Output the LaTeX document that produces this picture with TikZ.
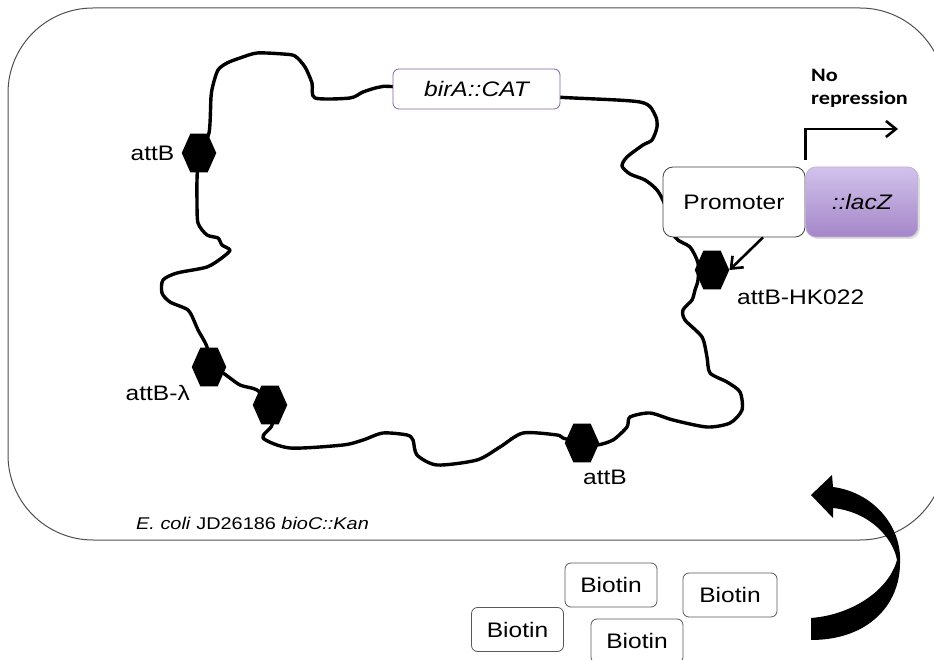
\documentclass[tikz,border=0pt]{standalone}
\usepackage{fontspec}
\setmainfont{Liberation Sans}[FakeStretch=1.17]
\newfontfamily\calibfont{Carlito}[FakeStretch=1.17]
\usepackage{tikz}
\usetikzlibrary{shapes.geometric, arrows.meta, positioning, calc, shadows}
\definecolor{cCell}{RGB}{80,80,80}
\definecolor{cLilac}{RGB}{128,100,162}
\definecolor{cLacTop}{RGB}{210,194,236}
\definecolor{cLacBot}{RGB}{164,134,200}
\tikzset{
    gene/.style    ={rectangle, rounded corners=6pt, draw=cLilac, fill=white, line width=0.8pt, minimum width=167pt, minimum height=40pt, font=\fontsize{21}{25}\selectfont\itshape},
    promo/.style   ={rectangle, rounded corners=10pt, draw=black!75, fill=white, line width=0.8pt, minimum width=142pt, minimum height=70pt, font=\fontsize{21}{25}\selectfont},
    reporter/.style={rectangle, rounded corners=10pt, draw=cLilac!50, top color=cLacTop, bottom color=cLacBot, line width=0.8pt, minimum width=112pt, minimum height=70pt, font=\fontsize{21}{25}\selectfont\itshape, drop shadow={opacity=0.25, shadow xshift=2pt, shadow yshift=-2pt}},
    biotin/.style  ={rectangle, rounded corners=6pt, draw=black!65, fill=white, line width=0.8pt, minimum width=92pt, minimum height=44pt, font=\fontsize{21}{25}\selectfont},
    site/.style    ={regular polygon, regular polygon sides=6, minimum size=34.5pt, inner sep=0pt, fill=black, yscale=1.3},
    tag/.style     ={inner sep=0pt, font=\fontsize{21}{25}\selectfont},
    dna/.style     ={line width=3.4pt, line join=round},
    pointer/.style ={-{Straight Barb[length=10pt, width=16pt]}, line width=2.6pt},
}

\begin{document}
\begin{tikzpicture}[x=1pt, y=-1pt]
    \useasboundingbox (0,0) rectangle (934,660);
    % cell outline
    \draw[cCell, line width=1pt, rounded corners=85pt] (8,8) rectangle (945,540);
    % chromosome
    \draw[dna] plot[smooth cycle, tension=0.45] coordinates {
        (199,153) (209,133) (211,97) (213,85) (218,70) (227,63) (240,58) (257,53)
        (283,54) (295,56) (305,67) (312,83) (315,98) (350,98) (363,92) (380,87)
        (400,87) (555,97) (640,102) (655,115) (657,127) (652,140) (643,145)
        (627,157) (622,166) (630,174) (645,180) (657,190) (665,205) (675,237)
        (690,247) (698,263) (698,280) (695,290) (692,300) (683,310) (685,320)
        (702,337) (707,357) (710,373) (727,382) (740,392) (742,410) (730,423)
        (707,427) (673,420) (650,413) (630,417) (627,427) (613,440) (597,445)
        (582,443) (563,438) (557,435) (523,433) (500,447) (477,460) (437,465)
        (417,455) (413,440) (407,435) (383,433) (363,440) (343,445) (290,448)
        (263,438) (272,425) (270,405) (257,390) (240,385) (223,373) (209,367)
        (207,347) (198,330) (195,323) (188,310) (170,302) (162,293) (163,280)
        (177,273) (207,267) (223,257) (230,250) (222,245) (218,238) (207,235)
        (198,223) (197,200) (197,180)};
    % genes
    \node[gene] (bira) at (476.5,89) {birA::CAT};
    \node[promo] (prom) at (734,202) {Promoter};
    \node[reporter, right=0pt of prom] (lacz) {::lacZ};
    % attachment sites
    \node[site] (attA) at (199,153) {};
    \node[site] (lam1) at (209,367) {};
    \node[site] (lam2) at (270,405) {};
    \node[site] (attC) at (582,443) {};
    \node[site] (hk)   at (712,270) {};
    \node[tag, left=7pt of attA] (attAtxt) {attB};
    \node[tag, anchor=east] (lamtxt) at (190,393) {attB-λ};
    \node[tag] (attCtxt) at (605,477) {attB};
    \node[tag, anchor=west] (hktxt) at (737,297) {attB-HK022};
    \node[tag, anchor=west, font=\fontsize{17}{20}\selectfont] (strain) at (136,523) {\textit{E. coli} JD26186 \textit{bioC::Kan}};
    % transcription
    \draw[pointer] ([xshift=29pt]prom.south) -- (hk.east);
    \coordinate (tss) at (898,129);
    \draw[pointer] ([yshift=7pt]lacz.north west) |- (tss);
    \node[inner sep=0pt, anchor=west, align=left, font=\calibfont\bfseries\fontsize{19}{23}\selectfont] (norep) at (811,88) {No\\repression};
    % biotin outside
    \node[biotin] (b1) at (517.5,629.5) {Biotin};
    \node[biotin] (b2) at (611,585) {Biotin};
    \node[biotin, minimum width=94pt] (b3) at (730,595) {Biotin};
    \node[biotin] (b4) at (637,641) {Biotin};
    % uptake arrow
    \fill (811,618) .. controls (850,615) and (888,592) .. (897,560)
        .. controls (893,538) and (870,512) .. (833,508) -- (833,518) -- (811,495)
        -- (832,475) -- (833,487) .. controls (872,492) and (902,525) .. (900,563)
        .. controls (900,605) and (868,640) .. (811,640) -- cycle;
\end{tikzpicture}
\end{document}
